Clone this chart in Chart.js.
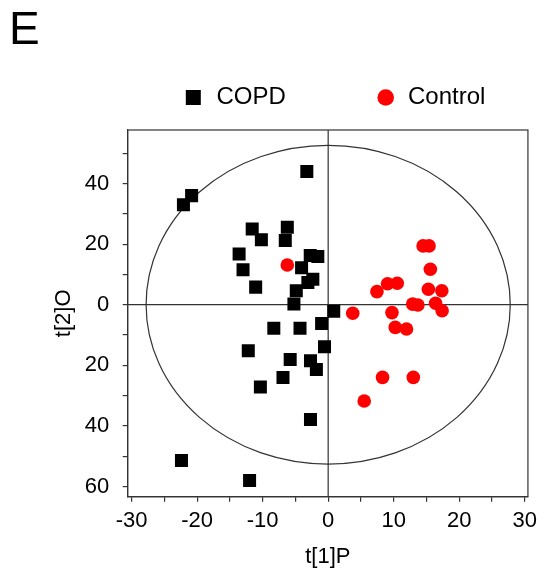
<!DOCTYPE html>
<html><head><meta charset="utf-8">
<script src="https://cdn.jsdelivr.net/npm/chart.js@4.4.1/dist/chart.umd.min.js"></script>
<style>html,body{margin:0;padding:0;background:#fff}#wrap{width:543px;height:575px}</style>
</head><body><div id="wrap"><canvas id="c" width="543" height="575"></canvas></div>
<script>
const panelLabel = 'E';
const seriesNames = ['COPD', 'Control'];
const copdX = [-3.26, -20.85, -22.1, -11.6, -6.24, -10.2, -6.55, -13.6, -2.74, -1.58, -13.0, -4.06, -2.34, -3.1, -11.07, -4.87, -5.23, 0.85, -8.3, -4.3, -1.0, -12.2, -5.8, -2.7, -1.8, -0.56, -6.9, -10.35, -2.7, -22.4, -12.0];
const copdY = [44.0, 36.0, 33.0, 25.0, 25.6, 21.4, 21.2, 16.7, 16.2, 15.9, 11.5, 12.2, 8.4, 7.3, 5.8, 4.6, 0.2, -2.2, -7.8, -7.8, -6.2, -15.2, -18.1, -18.5, -21.4, -13.9, -24.0, -27.2, -37.9, -51.4, -58.0];
const controlX = [-6.24, 14.5, 15.4, 15.6, 7.45, 9.07, 10.55, 15.3, 17.35, 12.9, 13.7, 16.4, 17.4, 3.75, 9.74, 10.24, 11.96, 8.3, 13.0, 5.5];
const controlY = [13.1, 19.4, 19.4, 11.7, 4.3, 6.9, 7.1, 5.1, 4.6, 0.2, -0.1, 0.5, -2.0, -2.8, -2.6, -7.5, -8.0, -24.0, -24.0, -31.8];
const xTickValues = [-30, -25, -20, -15, -10, -5, 0, 5, 10, 15, 20, 25, 30];
const yTickValues = [-60, -50, -40, -30, -20, -10, 0, 10, 20, 30, 40, 50];
const xLabelStep = 10;
const yLabelStep = 20;
const xTitle = 't[1]P';
const yTitle = 't[2]O';
const ellipseRadiusX = 27.8;
const ellipseRadiusY = 52.6;

const FONT = "'Liberation Sans', Arial, sans-serif";
const LINE = '#333';

const decor = {
  id: 'decor',
  beforeDatasetsDraw(chart) {
    const {ctx, chartArea: a, scales: {x, y}} = chart;
    const cx = x.getPixelForValue(0), cy = y.getPixelForValue(0);
    ctx.save();
    ctx.strokeStyle = LINE;
    ctx.lineWidth = 1.2;
    ctx.beginPath();
    ctx.moveTo(cx, a.top); ctx.lineTo(cx, a.bottom);
    ctx.moveTo(a.left, cy); ctx.lineTo(a.right, cy);
    ctx.stroke();
    const rx = Math.abs(x.getPixelForValue(ellipseRadiusX) - cx);
    const ry = Math.abs(y.getPixelForValue(ellipseRadiusY) - cy);
    ctx.beginPath();
    ctx.ellipse(cx, cy, rx, ry, 0, 0, Math.PI * 2);
    ctx.stroke();
    ctx.strokeRect(a.left, a.top, a.right - a.left, a.bottom - a.top);
    ctx.restore();
  },
  afterDraw(chart) {
    const {ctx, chartArea: a} = chart;
    const ly = a.top - 32.5;
    ctx.save();
    ctx.font = '24px ' + FONT;
    ctx.textBaseline = 'middle';
    ctx.textAlign = 'left';
    const sx = a.left + 65.6;
    ctx.fillStyle = '#000';
    ctx.fillRect(sx - 7.5, ly - 7.5, 15, 15);
    ctx.fillText(seriesNames[0], sx + 23.2, ly);
    const ccx = a.left + 258;
    ctx.fillStyle = '#ff0000';
    ctx.beginPath(); ctx.arc(ccx, ly, 8.3, 0, Math.PI * 2); ctx.fill();
    ctx.fillStyle = '#000';
    ctx.fillText(seriesNames[1], ccx + 22.3, ly);
    ctx.restore();
  }
};

new Chart(document.getElementById('c'), {
  type: 'scatter',
  data: {
    datasets: [
      {
        label: seriesNames[0],
        data: copdX.map((v, i) => ({x: v, y: copdY[i]})),
        pointStyle: 'rect', pointRadius: 9.2, pointHoverRadius: 9.2,
        backgroundColor: '#000', borderWidth: 0
      },
      {
        label: seriesNames[1],
        data: controlX.map((v, i) => ({x: v, y: controlY[i]})),
        pointStyle: 'circle', pointRadius: 6.8, pointHoverRadius: 6.8,
        backgroundColor: '#ff0000', borderWidth: 0
      }
    ]
  },
  options: {
    responsive: false,
    animation: false,
    devicePixelRatio: 1,
    events: [],
    layout: {padding: {left: 9, right: 13.7, top: 0, bottom: 0}},
    plugins: {
      legend: {display: false},
      tooltip: {enabled: false},
      title: {
        display: true, text: panelLabel, align: 'start', color: '#000',
        font: {family: FONT, size: 46, weight: 'normal'},
        padding: {top: 4, bottom: 70.8}
      }
    },
    scales: {
      x: {
        type: 'linear', position: 'bottom', min: -30.61, max: 30.5,
        afterBuildTicks: s => { s.ticks = xTickValues.map(v => ({value: v})); },
        afterFit: s => { s.height = 78.3; },
        ticks: {
          autoSkip: false, maxRotation: 0, color: '#000', padding: 6,
          font: {family: FONT, size: 22},
          callback: v => (v % xLabelStep === 0 ? String(v) : '')
        },
        grid: {drawOnChartArea: false, drawTicks: true, tickLength: 5, color: LINE, lineWidth: 1.2},
        border: {display: true, color: LINE, width: 1.2},
        title: {display: true, text: xTitle, color: '#000', font: {family: FONT, size: 22}, padding: {top: 0, bottom: 4.4}}
      },
      y: {
        type: 'linear', position: 'left', min: -63.37, max: 57.66,
        afterBuildTicks: s => { s.ticks = yTickValues.map(v => ({value: v})); },
        afterFit: s => { s.width = 118.7; },
        ticks: {
          autoSkip: false, color: '#000', padding: 13.5,
          font: {family: FONT, size: 22},
          callback: v => (v % yLabelStep === 0 ? String(Math.abs(v)) : '')
        },
        grid: {drawOnChartArea: false, drawTicks: true, tickLength: 5, color: LINE, lineWidth: 1.2},
        border: {display: true, color: LINE, width: 1.2},
        title: {display: true, text: yTitle, color: '#000', font: {family: FONT, size: 22}, padding: {top: 41.8, bottom: 0}}
      }
    }
  },
  plugins: [decor]
});
</script>
</body></html>
